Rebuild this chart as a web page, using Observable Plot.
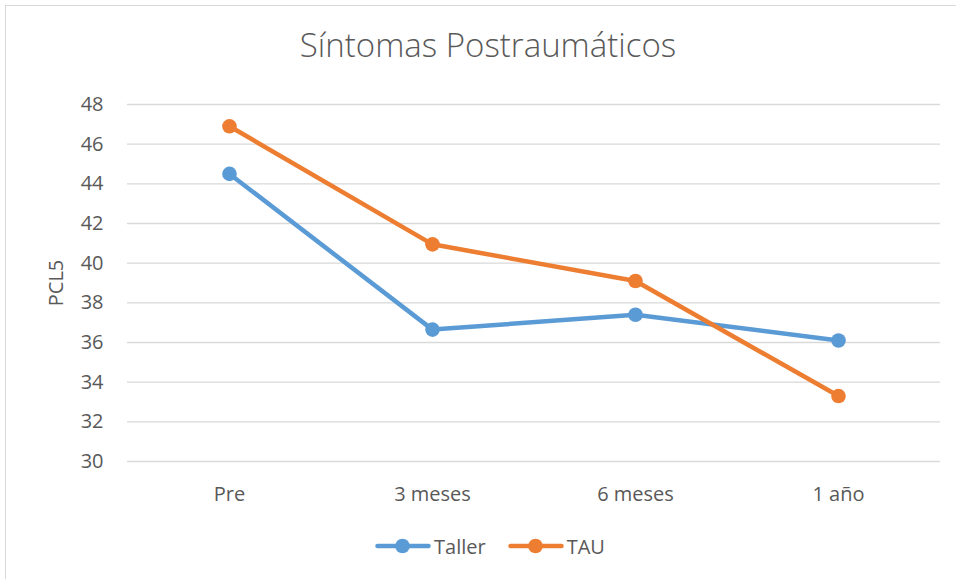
<!DOCTYPE html>
<html>
<head>
<meta charset="utf-8">
<script src="https://cdn.jsdelivr.net/npm/d3@7"></script>
<script src="https://cdn.jsdelivr.net/npm/@observablehq/plot@0.6"></script>
<style>
  html, body { margin: 0; padding: 0; background: #fff; overflow: hidden; width: 956px; height: 579px; }
  #frame { position: absolute; left: 5px; top: 5px; width: 1000px; height: 700px; border: 1px solid #d9d9d9; box-sizing: border-box; }
  #title { position: absolute; left: 0; top: 22px; width: 976px; text-align: center; font-family: "Open Sans", sans-serif; font-size: 33px; color: #595959; font-weight: 300; white-space: nowrap; }
  #chart { position: absolute; left: 0; top: 80px; }
  #legend { position: absolute; top: 532px; left: 375px; display: flex; font-family: "Open Sans", sans-serif; font-size: 20px; color: #595959; white-space: nowrap; }
  .item { display: flex; align-items: center; margin-right: 22px; }
  .item svg { margin-right: 3px; display: block; }
</style>
</head>
<body>
<div id="frame"></div>
<div id="title">Síntomas Postraumáticos</div>
<div id="chart"></div>
<div id="legend"></div>
<script>
const categories = ["Pre", "3 meses", "6 meses", "1 año"];
const seriesNames = ["Taller", "TAU"];
const tallerValues = [44.5, 36.65, 37.4, 36.1];
const tauValues = [46.9, 40.95, 39.1, 33.3];
const yTicks = [30, 32, 34, 36, 38, 40, 42, 44, 46, 48];
const colors = ["#5B9BD5", "#ED7D31"];

const data = [];
categories.forEach((c, i) => data.push({cat: c, value: tallerValues[i], series: seriesNames[0]}));
categories.forEach((c, i) => data.push({cat: c, value: tauValues[i], series: seriesNames[1]}));

const plot = Plot.plot({
  width: 956,
  height: 431,
  marginLeft: 127,
  marginRight: 16,
  marginTop: 24,
  marginBottom: 50,
  style: {fontFamily: "'Open Sans', sans-serif", fontSize: "20px", color: "#595959", background: "transparent"},
  x: {type: "point", domain: categories, padding: 0.5},
  y: {domain: [30, 48], ticks: yTicks},
  color: {domain: seriesNames, range: colors},
  marks: [
    Plot.gridY(yTicks, {stroke: "#d9d9d9", strokeOpacity: 1, strokeWidth: 1.3}),
    Plot.axisY(yTicks, {tickSize: 0, tickPadding: 24, label: "PCL5", labelAnchor: "center", labelArrow: "none", labelOffset: 79, fill: "#595959", fontSize: 20}),
    Plot.axisX({tickSize: 0, tickPadding: 25, label: null, fill: "#595959", fontSize: 20}),
    Plot.line(data, {x: "cat", y: "value", z: "series", stroke: "series", strokeWidth: 4.5, strokeLinecap: "round", strokeLinejoin: "round"}),
    Plot.dot(data, {x: "cat", y: "value", fill: "series", r: 7.3, stroke: null})
  ]
});
document.getElementById("chart").appendChild(plot);

const legend = document.getElementById("legend");
seriesNames.forEach((name, i) => {
  const item = document.createElement("div");
  item.className = "item";
  item.innerHTML = `<svg width="56" height="28"><line x1="2.5" y1="14" x2="53.5" y2="14" stroke="${colors[i]}" stroke-width="4.5" stroke-linecap="round"/><circle cx="27.5" cy="14" r="7.3" fill="${colors[i]}"/></svg><span>${name}</span>`;
  legend.appendChild(item);
});
</script>
</body>
</html>
